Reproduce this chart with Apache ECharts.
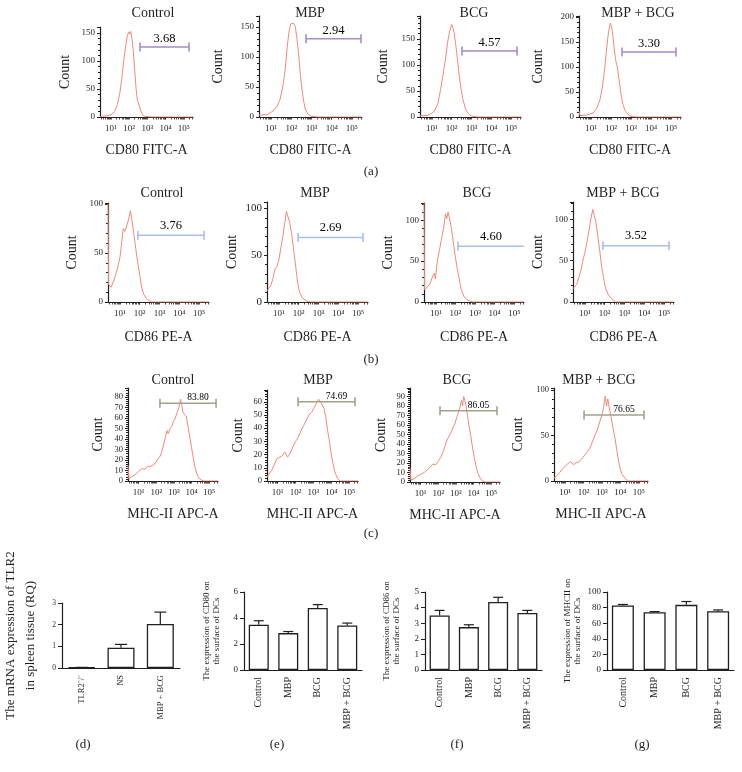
<!DOCTYPE html>
<html>
<head>
<meta charset="utf-8">
<script src="https://cdn.jsdelivr.net/npm/echarts@6/dist/echarts.min.js"></script>
<style>html,body{margin:0;padding:0;background:#fff}#main{width:742px;height:772px}</style>
</head>
<body>
<div id="main"></div>
<script>
var serif = 'Liberation Serif';
var ink = '#231f20';

var groups = ['Control', 'MBP', 'BCG', 'MBP + BCG'];

// histograms: [log10 fluorescence, count]
var cd80Control = [[0.4,1],[0.8,2],[1.0,4],[1.2,10],[1.35,22],[1.5,45],[1.6,70],[1.7,100],[1.8,125],[1.9,145],[1.97,152],[2.03,148],[2.08,153],[2.15,140],[2.22,120],[2.3,85],[2.38,50],[2.45,30],[2.55,20],[2.65,10],[2.75,3],[2.9,1],[3.2,0],[5.5,0]];
var cd80Mbp = [[0.4,3],[0.8,4],[1.1,10],[1.3,18],[1.45,30],[1.6,55],[1.7,80],[1.8,118],[1.9,145],[1.98,155],[2.05,152],[2.12,156],[2.2,150],[2.28,130],[2.36,105],[2.45,70],[2.53,45],[2.62,25],[2.7,12],[2.85,4],[3.0,1],[3.3,0],[5.5,0]];
var cd80Bcg = [[0.4,2],[0.8,3],[1.1,10],[1.3,25],[1.45,55],[1.6,90],[1.7,115],[1.8,145],[1.9,165],[1.95,168],[2.0,178],[2.06,172],[2.12,162],[2.2,140],[2.28,115],[2.38,80],[2.47,55],[2.56,35],[2.7,15],[2.85,6],[3.0,2],[3.3,0],[5.5,0]];
var cd80MbpBcg = [[0.4,12],[0.45,3],[0.8,4],[1.1,8],[1.3,18],[1.45,35],[1.57,60],[1.68,95],[1.76,128],[1.85,162],[1.92,180],[1.97,188],[2.03,180],[2.1,160],[2.18,130],[2.25,110],[2.32,100],[2.4,75],[2.5,45],[2.6,25],[2.7,13],[2.85,5],[3.0,1],[3.3,0],[5.5,0]];
var cd80Gates = [[2.59, 5.28, 125], [2.73, 5.45, 130], [2.52, 5.3, 127], [2.55, 5.25, 130]];
var cd80Pct = ['3.68', '2.94', '4.57', '3.30'];

var cd86Control = [[0.4,100],[0.43,18],[0.55,15],[0.7,22],[0.85,32],[1.0,45],[1.1,62],[1.17,75],[1.25,72],[1.35,78],[1.45,85],[1.53,93],[1.6,85],[1.7,70],[1.8,55],[1.9,40],[2.0,28],[2.1,15],[2.2,8],[2.35,3],[2.6,0],[5.5,0]];
var cd86Mbp = [[0.4,12],[0.5,10],[0.6,18],[0.7,25],[0.8,35],[0.9,38],[1.0,45],[1.1,58],[1.2,70],[1.3,85],[1.38,97],[1.45,92],[1.55,85],[1.65,72],[1.75,55],[1.85,38],[1.95,20],[2.05,10],[2.2,4],[2.4,1],[2.6,0],[5.5,0]];
var cd86Bcg = [[0.4,121],[0.43,15],[0.55,18],[0.7,22],[0.85,32],[0.93,35],[0.98,28],[1.08,50],[1.2,65],[1.3,78],[1.4,90],[1.5,108],[1.56,102],[1.63,110],[1.72,100],[1.8,90],[1.9,72],[2.0,55],[2.1,40],[2.2,28],[2.3,15],[2.45,6],[2.65,2],[2.85,0],[5.5,0]];
var cd86MbpBcg = [[0.4,16],[0.5,18],[0.6,22],[0.7,30],[0.8,38],[0.9,50],[1.0,60],[1.1,72],[1.2,85],[1.3,100],[1.4,112],[1.47,105],[1.55,98],[1.65,80],[1.75,62],[1.85,42],[1.95,28],[2.05,16],[2.2,8],[2.35,4],[2.55,0],[5.5,0]];
var cd86Gates = [[1.91, 5.25, 68], [1.97, 5.25, 69], [2.13, 5.5, 68], [1.91, 5.25, 68]];
var cd86Pct = ['3.76', '2.69', '4.60', '3.52'];

var mhcControl = [[0.4,15],[0.45,2],[0.6,4],[0.8,6],[1.0,9],[1.2,12],[1.35,11],[1.5,14],[1.7,14],[1.9,16],[2.05,20],[2.2,23],[2.32,28],[2.42,35],[2.52,42],[2.6,48],[2.68,45],[2.78,50],[2.88,52],[2.98,57],[3.08,60],[3.18,65],[3.28,70],[3.38,78],[3.45,72],[3.52,65],[3.6,66],[3.7,62],[3.8,52],[3.9,42],[4.0,32],[4.1,22],[4.2,13],[4.3,7],[4.4,3],[4.55,1],[4.7,0],[5.5,0]];
var mhcMbp = [[0.4,3],[0.5,5],[0.65,8],[0.8,12],[0.95,17],[1.1,18],[1.25,19],[1.4,22],[1.55,18],[1.7,21],[1.85,26],[2.0,30],[2.15,33],[2.3,38],[2.45,42],[2.6,46],[2.75,50],[2.9,52],[3.05,56],[3.2,60],[3.3,62],[3.4,60],[3.5,61],[3.6,55],[3.7,48],[3.8,38],[3.9,30],[4.0,20],[4.1,13],[4.2,7],[4.35,2],[4.5,0],[5.5,0]];
var mhcBcg = [[0.4,15],[0.45,2],[0.6,3],[0.8,6],[1.0,8],[1.2,10],[1.4,13],[1.55,16],[1.7,19],[1.85,18],[2.0,22],[2.15,26],[2.3,33],[2.45,42],[2.6,48],[2.72,52],[2.85,58],[2.95,62],[3.05,68],[3.15,74],[3.25,80],[3.32,86],[3.38,80],[3.44,90],[3.5,86],[3.58,80],[3.66,70],[3.75,58],[3.85,48],[3.95,35],[4.05,25],[4.15,16],[4.25,9],[4.35,5],[4.5,1],[4.65,0],[5.5,0]];
var mhcMbpBcg = [[0.4,3],[0.55,6],[0.7,9],[0.85,13],[1.0,16],[1.15,19],[1.3,21],[1.45,18],[1.6,20],[1.75,21],[1.9,24],[2.05,28],[2.2,32],[2.35,36],[2.5,44],[2.62,50],[2.75,56],[2.88,65],[3.0,72],[3.1,82],[3.18,93],[3.25,82],[3.32,90],[3.4,80],[3.5,70],[3.6,58],[3.7,48],[3.8,35],[3.9,22],[4.0,13],[4.1,7],[4.25,3],[4.4,0],[5.5,0]];
var mhcGates = [[2.21, 5.39, 74], [2.14, 5.33, 60], [2.1, 5.33, 75], [2.03, 5.28, 72.5]];
var mhcPct = ['83.80', '74.69', '86.05', '76.65'];

// bar charts: mean and SD
var tlr2Cats = ['TLR2\u207b/\u207b', 'NS', 'MBP + BCG'];
var tlr2Mean = [0.03, 0.94, 2.03];
var tlr2Err = [0, 0.15, 0.55];
var dcCats = ['Control', 'MBP', 'BCG', 'MBP + BCG'];
var cd80Mean = [3.48, 2.84, 4.77, 3.43];
var cd80Err = [0.31, 0.12, 0.26, 0.18];
var cd86Mean = [3.5, 2.75, 4.36, 3.65];
var cd86Err = [0.32, 0.15, 0.3, 0.17];
var mhcMean = [82.7, 74, 83.5, 75.3];
var mhcErr = [1.3, 0.9, 4.3, 1.7];

var decades = [1, 2, 3, 4, 5];
var sup = {1: '\u00b9', 2: '\u00b2', 3: '\u00b3', 4: '\u2074', 5: '\u2075'};
var logTicks = [];
for (var d = 0; d < 6; d++) {
    for (var m = 1; m < 10; m++) {
        var t = d + Math.log10(m);
        if (t >= 0.4 && t <= 5.5) logTicks.push(t);
    }
}

var flowRows = [
    {hists: [cd80Control, cd80Mbp, cd80Bcg, cd80MbpBcg], gates: cd80Gates, pct: cd80Pct, xName: 'CD80 FITC-A',
        gateColor: '#a38dcb', pctSize: 12.5, pctDist: 1, pctDx: 0,
        rects: [[100, 27, 93, 90], [259, 16, 103, 101], [420, 16, 101, 101], [579, 16, 102, 101]],
        yMax: [160.7, 168, 194, 202], yStep: [50, 50, 50, 50], yFont: [9, 9, 9, 9],
        countGap: [28, 34, 30, 34], titleX: [153, 310, 474, 638], titleY: 13, xNameGap: 26},
    {hists: [cd86Control, cd86Mbp, cd86Bcg, cd86MbpBcg], gates: cd86Gates, pct: cd86Pct, xName: 'CD86 PE-A',
        gateColor: '#a9c0e8', pctSize: 12.5, pctDist: 3, pctDx: 0,
        rects: [[108, 203, 101, 99], [267, 202, 101, 100], [424, 203, 100, 99], [573, 202, 101, 100]],
        yMax: [101, 107, 121, 121], yStep: [50, 50, 50, 50], yFont: [9, 11, 9, 9],
        countGap: [29, 28, 29, 28], titleX: [162, 315, 477, 623], titleY: 193, xNameGap: 28},
    {hists: [mhcControl, mhcMbp, mhcBcg, mhcMbpBcg], gates: mhcGates, pct: mhcPct, xName: 'MHC-II APC-A',
        gateColor: '#a0a38a', pctSize: 9.5, pctDist: 0, pctDx: 10,
        rects: [[128, 388, 90, 93], [267, 390, 91, 91], [410, 388, 90, 94], [554, 388, 94, 93]],
        yMax: [88.6, 69, 99, 102], yStep: [10, 10, 10, 50], yFont: [8.5, 8.5, 8.5, 8.5],
        countGap: [23, 22, 22, 29], titleX: [173, 318, 457, 599], titleY: 380, xNameGap: 26}
];

var barPanels = [
    {cats: tlr2Cats, mean: tlr2Mean, err: tlr2Err, rect: [61, 603, 119, 65], max: 3, step: 1,
        name: 'The mRNA expression of TLR2\nin spleen tissue (RQ)', nameSize: 13, nameLine: 20, nameGap: 21,
        font: 7.5, barWidth: 27, cap: 6},
    {cats: dcCats, mean: cd80Mean, err: cd80Err, rect: [244, 592, 118, 78], max: 6, step: 2,
        name: 'The expression of CD80 on\nthe surface of DCs', nameSize: 9, nameLine: 10, nameGap: 22,
        font: 9, barWidth: 20, cap: 5},
    {cats: dcCats, mean: cd86Mean, err: cd86Err, rect: [425, 592, 117, 78], max: 5, step: 1,
        name: 'The expression of CD86 on\nthe surface of DCs', nameSize: 9, nameLine: 10, nameGap: 23,
        font: 9, barWidth: 20, cap: 5},
    {cats: dcCats, mean: mhcMean, err: mhcErr, rect: [607, 592, 127, 78], max: 100, step: 20,
        name: 'The expression of MHCII on\nthe surface of DCs', nameSize: 9, nameLine: 10, nameGap: 24,
        font: 9, barWidth: 22, cap: 5}
];

var panelTags = [['(a)', 371, 172], ['(b)', 371, 360], ['(c)', 371, 534],
    ['(d)', 83, 745], ['(e)', 277, 745], ['(f)', 457, 745], ['(g)', 642, 745]];

var grids = [], xAxes = [], yAxes = [], series = [], graphics = [];

function textEl(str, x, y, size) {
    return {
        type: 'text', x: x, y: y,
        style: {text: str, fill: ink, font: size + 'px "' + serif + '"',
            align: 'center', verticalAlign: 'middle', textAlign: 'center', textVerticalAlign: 'middle'}
    };
}

flowRows.forEach(function (row) {
    row.rects.forEach(function (r, i) {
        var gi = grids.length;
        grids.push({left: r[0], top: r[1], width: r[2], height: r[3]});
        xAxes.push({
            gridIndex: gi, type: 'value', min: 0.4, max: 5.5,
            name: row.xName, nameLocation: 'middle', nameGap: row.xNameGap,
            nameTextStyle: {fontFamily: serif, fontSize: 14, color: ink},
            axisLine: {lineStyle: {color: ink, width: 1.2}},
            axisTick: {customValues: logTicks, length: 2.5, lineStyle: {color: ink, width: 0.8}},
            axisLabel: {customValues: decades, margin: 7, fontFamily: serif, fontSize: 9, color: ink,
                formatter: function (v) { return '10' + sup[Math.round(v)]; }},
            splitLine: {show: false}
        });
        yAxes.push({
            gridIndex: gi, type: 'value', min: 0, max: row.yMax[i], interval: row.yStep[i],
            name: 'Count', nameLocation: 'middle', nameGap: row.countGap[i],
            nameTextStyle: {fontFamily: serif, fontSize: 14, color: ink},
            axisLine: {show: true, lineStyle: {color: ink, width: 1.2}},
            axisTick: {show: true, length: 3, lineStyle: {color: ink}},
            minorTick: {show: true, splitNumber: 5, length: 2, lineStyle: {color: ink}},
            axisLabel: {showMaxLabel: false, margin: 5, fontFamily: serif, fontSize: row.yFont[i], color: ink},
            splitLine: {show: false}
        });
        series.push({
            type: 'line', xAxisIndex: gi, yAxisIndex: gi, data: row.hists[i],
            showSymbol: false, lineStyle: {color: '#f08a78', width: 1}, silent: true
        });
        var g = row.gates[i];
        var capEnd = g[1] < 5.5 ? 'rect' : 'none';
        series.push({
            type: 'line', xAxisIndex: gi, yAxisIndex: gi, showAllSymbol: true, z: 3,
            symbolSize: [1.6, 9], itemStyle: {color: row.gateColor},
            lineStyle: {color: row.gateColor, width: 1.5}, silent: true,
            data: [
                {value: [g[0], g[2]], symbol: 'rect'},
                {value: [g[1], g[2]], symbol: capEnd}
            ]
        });
        series.push({
            type: 'scatter', xAxisIndex: gi, yAxisIndex: gi, symbolSize: 1, z: 1, silent: true,
            itemStyle: {color: row.gateColor, opacity: 1},
            data: [[(g[0] + g[1]) / 2, g[2]]],
            label: {show: true, position: 'top', distance: row.pctDist, offset: [row.pctDx, 0],
                formatter: row.pct[i], fontFamily: serif, fontSize: row.pctSize, color: '#000', opacity: 1}
        });
        graphics.push(textEl(groups[i], row.titleX[i], row.titleY, 14));
    });
});

function errorBar(cap) {
    return function (params, api) {
        var x = api.value(0);
        var p0 = api.coord([x, api.value(1)]);
        var p1 = api.coord([x, api.value(1) + api.value(2)]);
        var st = {stroke: ink, lineWidth: 1.2};
        return {
            type: 'group', children: [
                {type: 'line', shape: {x1: p0[0], y1: p0[1], x2: p1[0], y2: p1[1]}, style: st},
                {type: 'line', shape: {x1: p1[0] - cap, y1: p1[1], x2: p1[0] + cap, y2: p1[1]}, style: st}
            ]
        };
    };
}

barPanels.forEach(function (p) {
    var gi = grids.length;
    var r = p.rect;
    grids.push({left: r[0], top: r[1], width: r[2], height: r[3]});
    xAxes.push({
        gridIndex: gi, type: 'category', data: p.cats,
        axisLine: {lineStyle: {color: ink, width: 1.2}},
        axisTick: {alignWithLabel: true, length: 4, lineStyle: {color: ink}},
        axisLabel: {rotate: 90, interval: 0, margin: 7, fontFamily: serif, fontSize: p.font + 1, color: ink}
    });
    yAxes.push({
        gridIndex: gi, type: 'value', min: 0, max: p.max, interval: p.step,
        name: p.name, nameLocation: 'middle', nameGap: p.nameGap,
        nameTextStyle: {fontFamily: serif, fontSize: p.nameSize, lineHeight: p.nameLine, color: ink, align: 'center'},
        axisLine: {show: true, lineStyle: {color: ink, width: 1.2}},
        axisTick: {show: true, length: 4, lineStyle: {color: ink}},
        axisLabel: {margin: 6, fontFamily: serif, fontSize: p.font, color: ink},
        splitLine: {show: false}
    });
    series.push({
        type: 'bar', xAxisIndex: gi, yAxisIndex: gi, data: p.mean, barWidth: p.barWidth,
        itemStyle: {color: '#fff', borderColor: ink, borderWidth: 1.3}, silent: true
    });
    series.push({
        type: 'custom', xAxisIndex: gi, yAxisIndex: gi, z: 5, silent: true,
        renderItem: errorBar(p.cap),
        data: p.mean.map(function (v, i) { return [i, v, p.err[i]]; })
    });
});

panelTags.forEach(function (t) { graphics.push(textEl(t[0], t[1], t[2], 13)); });

var myChart = echarts.init(document.getElementById('main'));
myChart.setOption({
    backgroundColor: '#fff',
    animation: false,
    grid: grids,
    xAxis: xAxes,
    yAxis: yAxes,
    series: series,
    graphic: graphics
});
</script>
</body>
</html>
